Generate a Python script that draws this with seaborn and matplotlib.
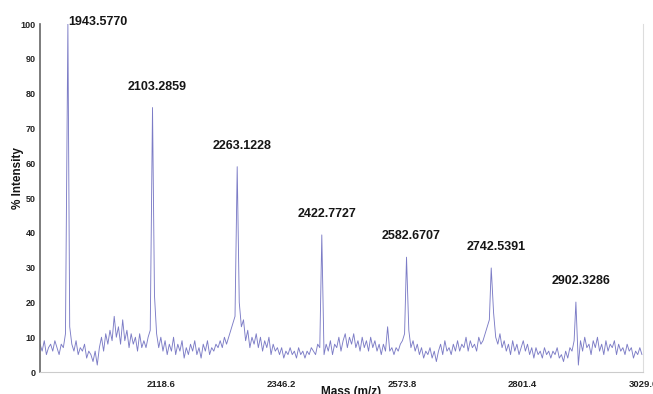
import matplotlib
matplotlib.use("Agg")
import matplotlib.pyplot as plt
import numpy as np
import pandas as pd
import seaborn as sns

# baseline noise, one value every 4 Da from 1891
mass_start = 1891
mass_step = 4
baseline = [
    8, 6, 9, 5, 7, 8, 6, 9, 7, 5, 8, 7, 11, 9,
    13, 8, 6, 9, 5, 7, 6, 8, 4, 6, 5, 3, 6, 2, 7, 10, 6, 11, 8, 12,
    9, 16, 10, 13, 8, 15, 9, 12, 7, 11, 8, 10, 6, 11, 7, 9, 7, 10, 12, 10,
    22, 11, 7, 10, 6, 9, 5, 8, 6, 10, 5, 8, 6, 9, 4, 7, 5, 8, 6, 9,
    5, 7, 4, 8, 6, 9, 5, 7, 6, 8, 7, 9, 7, 10, 8, 10, 12, 14, 16, 15,
    20, 13, 15, 9, 12, 7, 10, 8, 11, 7, 10, 6, 9, 7, 10, 5, 8, 6, 7, 5,
    7, 4, 6, 5, 7, 5, 6, 4, 7, 5, 6, 4, 6, 5, 7, 6, 5, 8, 7, 6,
    5, 8, 6, 9, 5, 8, 7, 10, 6, 9, 11, 7, 10, 8, 11, 7, 9, 6, 10, 7,
    9, 6, 10, 7, 9, 6, 8, 5, 8, 6, 13, 6, 7, 5, 7, 6, 8, 9, 11, 8,
    12, 7, 9, 6, 8, 5, 7, 4, 6, 5, 7, 4, 6, 3, 6, 8, 5, 9, 6, 7,
    5, 8, 6, 9, 6, 8, 7, 10, 6, 9, 7, 8, 6, 10, 8, 9, 11, 13, 15, 12,
    17, 10, 8, 11, 7, 9, 6, 8, 5, 9, 6, 8, 5, 7, 9, 6, 8, 5, 7, 4,
    7, 5, 6, 4, 7, 5, 6, 4, 6, 5, 7, 4, 5, 3, 6, 4, 7, 6, 9, 6,
    2, 9, 6, 10, 7, 8, 5, 9, 7, 10, 6, 8, 5, 9, 6, 8, 7, 9, 5, 8,
    6, 7, 5, 8, 6, 7, 4, 6, 5, 7, 5,
]

peak_mass = [1943.5770, 2103.2859, 2263.1228, 2422.7727, 2582.6707, 2742.5391, 2902.3286]
peak_height = [100, 76, 59, 39.4, 33, 29.9, 20.1]
peak_labels = ["1943.5770", "2103.2859", "2263.1228", "2422.7727",
               "2582.6707", "2742.5391", "2902.3286"]

xtick_vals = [1891.0, 2118.6, 2346.2, 2573.8, 2801.4, 3029.0]
xtick_labels = ["", "2118.6", "2346.2", "2573.8", "2801.4", "3029.0"]
ytick_vals = [0, 10, 20, 30, 40, 50, 60, 70, 80, 90, 100]

# build the spectrum: baseline with the apexes spliced in
base_mass = mass_start + mass_step * np.arange(len(baseline))
keep = np.ones(len(baseline), dtype=bool)
for pm in peak_mass:
    keep &= np.abs(base_mass - pm) > 2.5
df = pd.DataFrame({
    "mass": np.concatenate([base_mass[keep], peak_mass]),
    "intensity": np.concatenate([np.array(baseline)[keep], peak_height]),
}).sort_values("mass")

sns.set_style("white")
plt.rcParams["font.family"] = ["Liberation Sans", "DejaVu Sans"]
plt.rcParams["font.weight"] = "bold"
plt.rcParams["text.color"] = "#161616"
plt.rcParams["axes.labelcolor"] = "#161616"
plt.rcParams["xtick.color"] = "#222222"
plt.rcParams["ytick.color"] = "#222222"

fig = plt.figure(figsize=(6.53, 3.94), dpi=100)
ax = fig.add_axes([0.0613, 0.0558, 0.9234, 0.8832])

sns.lineplot(data=df, x="mass", y="intensity", ax=ax, color="#7c7cc6",
             linewidth=0.65, estimator=None, sort=False)

ax.set_xlim(1891.0, 3029.0)
ax.set_ylim(0, 100)
ax.set_xticks(xtick_vals)
ax.set_xticklabels(xtick_labels, fontsize=6.8, fontweight="bold")
ax.set_yticks(ytick_vals)
ax.set_yticklabels([str(v) for v in ytick_vals], fontsize=6.5, fontweight="bold")
ax.tick_params(axis="y", length=2, pad=1, color="#777777")
ax.tick_params(axis="x", length=2, pad=4, color="#cccccc")

ax.spines["top"].set_visible(False)
ax.spines["left"].set_color("#666666")
ax.spines["left"].set_linewidth(1.2)
ax.spines["bottom"].set_color("#cccccc")
ax.spines["right"].set_color("#dddddd")
ax.spines["bottom"].set_linewidth(0.8)
ax.spines["right"].set_linewidth(0.8)

ax.set_xlabel("Mass (m/z)", fontsize=8.5, fontweight="bold", va="top")
ax.xaxis.set_label_coords(0.516, -0.040)
ax.set_ylabel("% Intensity", fontsize=8.5, fontweight="bold", va="center")
ax.yaxis.set_label_coords(-0.037, 0.556)

for i, (pm, ph, lab) in enumerate(zip(peak_mass, peak_height, peak_labels)):
    if i == 0:
        ax.text(pm, ph + 0.7, lab, ha="left", va="center", fontsize=9,
                fontweight="bold", clip_on=False)
    else:
        ax.text(pm + 9, ph + 6, lab, ha="center", va="center", fontsize=9,
                fontweight="bold", clip_on=False)

fig.savefig("out.png", dpi=100)
